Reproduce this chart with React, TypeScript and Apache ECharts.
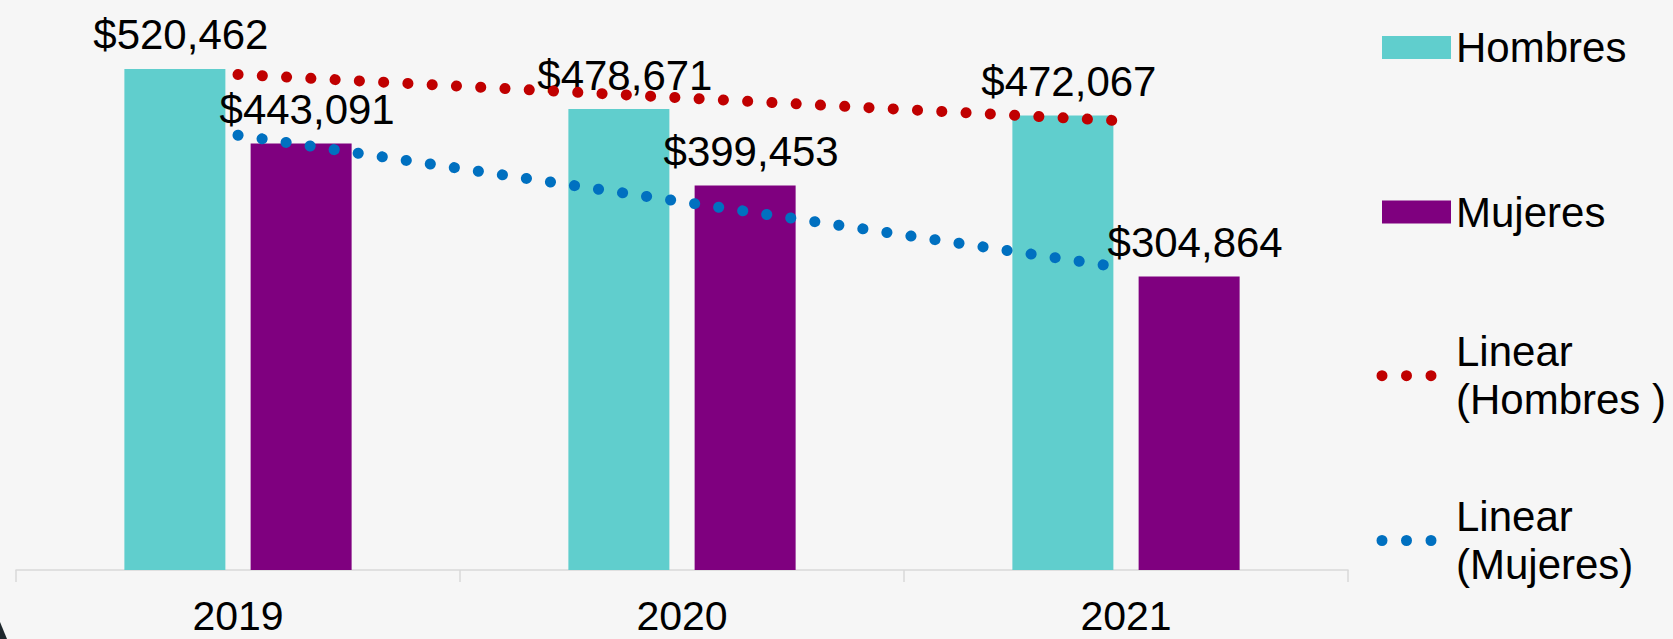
import React, { useEffect, useRef } from "react";
import * as echarts from "echarts";

const years = ["2019", "2020", "2021"];
const hombres = [520462, 478671, 472067];
const mujeres = [443091, 399453, 304864];
// Linear trend lines as drawn in the picture (values at each year)
const trendHombres = [514598, 490400, 466203];
const trendMujeres = [451583, 382469, 313356];

const FONT = "'Liberation Sans', Arial, sans-serif";
const CYAN = "#60CECD";
const PURPLE = "#7F007F";
const RED = "#C00000";
const BLUE = "#0070C0";

const dotsIcon =
  "path://M0 5.5a5.5 5.5 0 1 0 11 0a5.5 5.5 0 1 0 -11 0Z" +
  "M24.5 5.5a5.5 5.5 0 1 0 11 0a5.5 5.5 0 1 0 -11 0Z" +
  "M49 5.5a5.5 5.5 0 1 0 11 0a5.5 5.5 0 1 0 -11 0Z";

const money = (p: any) => "$" + Number(p.value).toLocaleString("en-US");

export default function App() {
  const ref = useRef<HTMLDivElement>(null);
  useEffect(() => {
    document.body.style.margin = "0";
    const chart = echarts.init(ref.current!, undefined, { renderer: "svg" });
    const barLabel = {
      show: true,
      position: "top",
      distance: 13,
      offset: [6, 0],
      formatter: money,
      fontSize: 42,
      lineHeight: 42,
      color: "#000",
      fontFamily: FONT,
    };
    const legendText = { fontSize: 42, lineHeight: 48, color: "#000", fontFamily: FONT };
    const lineLegendText = { ...legendText, padding: [48, 0, 0, 14.5] };
    chart.setOption({
      animation: false,
      backgroundColor: "#F6F6F6",
      grid: { left: 16, right: 325, top: 0, bottom: 69 },
      xAxis: {
        type: "category",
        data: years,
        axisLine: { lineStyle: { color: "#D9D9D9", width: 1.5 } },
        axisTick: { show: true, length: 12, lineStyle: { color: "#D9D9D9", width: 1.5 } },
        axisLabel: { fontSize: 41, lineHeight: 34, color: "#000", margin: 29, fontFamily: FONT },
      },
      yAxis: { type: "value", min: 0, max: 592000, show: false, splitLine: { show: false } },
      legend: [
        {
          data: [{ name: "Hombres", icon: "rect" }],
          left: 1382, top: 23.5, padding: 0, itemWidth: 69, itemHeight: 23,
          itemStyle: { borderWidth: 0 }, textStyle: legendText, selectedMode: false,
        },
        {
          data: [{ name: "Mujeres", icon: "rect" }],
          left: 1382, top: 188, padding: 0, itemWidth: 69, itemHeight: 23,
          itemStyle: { borderWidth: 0 }, textStyle: legendText, selectedMode: false,
        },
        {
          data: [{ name: "Linear (Hombres )", icon: dotsIcon }],
          left: 1376.5, top: 303.7, padding: 0, itemWidth: 60, itemHeight: 11,
          itemStyle: { borderWidth: 0 }, textStyle: lineLegendText, selectedMode: false,
          formatter: (n: string) => n.replace(" (", "\n("),
        },
        {
          data: [{ name: "Linear (Mujeres)", icon: dotsIcon }],
          left: 1376.5, top: 468.5, padding: 0, itemWidth: 60, itemHeight: 11,
          itemStyle: { borderWidth: 0 }, textStyle: lineLegendText, selectedMode: false,
          formatter: (n: string) => n.replace(" (", "\n("),
        },
      ],
      series: [
        {
          name: "Hombres", type: "bar", data: hombres, barWidth: 101, barGap: "25%",
          itemStyle: { color: CYAN }, label: barLabel,
        },
        {
          name: "Mujeres", type: "bar", data: mujeres, barWidth: 101,
          itemStyle: { color: PURPLE }, label: barLabel,
        },
        {
          name: "Linear (Hombres )", type: "line", data: trendHombres, symbol: "none", z: 5,
          itemStyle: { color: RED },
          lineStyle: { color: RED, width: 11, type: [0.1, 24.2], cap: "round" },
        },
        {
          name: "Linear (Mujeres)", type: "line", data: trendMujeres, symbol: "none", z: 5,
          itemStyle: { color: BLUE },
          lineStyle: { color: BLUE, width: 11, type: [0.1, 24.2], cap: "round" },
        },
      ],
      graphic: [
        {
          type: "polygon",
          shape: { points: [[0, 622], [7, 639], [0, 639]] },
          style: { fill: "#1E272C" },
          silent: true,
        },
      ],
    });
    return () => chart.dispose();
  }, []);
  return <div ref={ref} style={{ position: "fixed", left: 0, top: 0, width: 1673, height: 639 }} />;
}
